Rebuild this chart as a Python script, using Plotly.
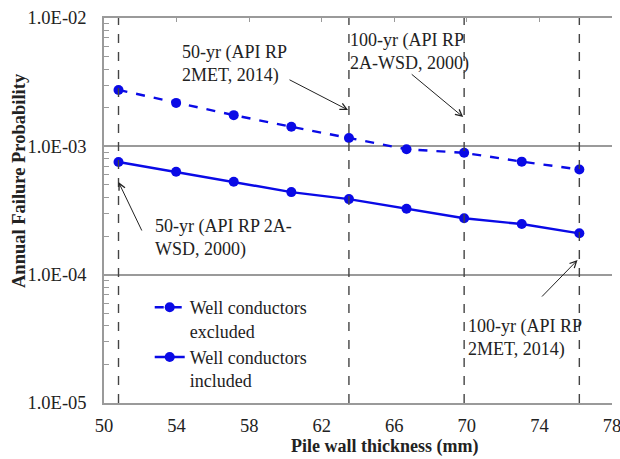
import plotly.graph_objects as go

thickness = [50.8, 53.975, 57.15, 60.325, 63.5, 66.675, 69.85, 73.025, 76.2]
excluded = [2.75e-3, 2.18e-3, 1.75e-3, 1.42e-3, 1.16e-3, 9.5e-4, 8.9e-4, 7.6e-4, 6.6e-4]
included = [7.55e-4, 6.33e-4, 5.3e-4, 4.4e-4, 3.88e-4, 3.26e-4, 2.75e-4, 2.48e-4, 2.1e-4]
design_thickness = [50.8, 63.5, 69.85, 76.2]
y_ticks = [1e-5, 1e-4, 1e-3, 1e-2]
y_tick_labels = ["1.0E-05", "1.0E-04", "1.0E-03", "1.0E-02"]
x_ticks = [50, 54, 58, 62, 66, 70, 74, 78]

FONT = "Liberation Serif"
BLUE = "rgb(10,10,230)"
GRID = "#9a9a9a"
TXT = "#222"

fig = go.Figure()
fig.add_trace(go.Scatter(x=thickness, y=excluded, mode="lines+markers",
                         name="Well conductors<br>excluded",
                         line=dict(color=BLUE, width=2.4, dash="dash"),
                         marker=dict(color=BLUE, size=10)))
fig.add_trace(go.Scatter(x=thickness, y=included, mode="lines+markers",
                         name="Well conductors<br>included",
                         line=dict(color=BLUE, width=2.4),
                         marker=dict(color=BLUE, size=10)))
fig.add_trace(go.Scatter(x=[50, 78], y=[None, None], xaxis="x2", showlegend=False,
                         hoverinfo="skip"))

for xv in design_thickness:
    fig.add_shape(type="line", xref="x", yref="paper", x0=xv, x1=xv, y0=0, y1=1,
                  line=dict(color="#444", width=1.4, dash="dash"))

minor_vals = [m * 10 ** e for e in (-5, -4, -3) for m in range(2, 10)]

fig.update_layout(
    width=620, height=459,
    margin=dict(l=104, r=8, t=18, b=56),
    paper_bgcolor="white", plot_bgcolor="white",
    font=dict(family=FONT, size=18, color=TXT),
    showlegend=True,
    legend=dict(x=0.09, y=0.296, xanchor="left", yanchor="top",
                bgcolor="rgba(0,0,0,0)", font=dict(family=FONT, size=18, color=TXT),
                tracegroupgap=2, valign="top"),
    xaxis=dict(range=[50, 78], tickvals=x_ticks, ticks="", showgrid=False,
               automargin=False, ticklabelstandoff=5, ticklabeloverflow="allow",
               showline=True, linecolor=GRID, linewidth=1.5, zeroline=False,
               tickfont=dict(family=FONT, size=18.5, color=TXT)),
    xaxis2=dict(range=[50, 78], tickvals=x_ticks, overlaying="x", side="top",
                automargin=False,
                ticks="inside", ticklen=4, tickcolor=GRID, showticklabels=False,
                showline=True, linecolor=GRID, linewidth=1.5, showgrid=False, zeroline=False),
    yaxis=dict(type="log", range=[-5, -2], tickvals=y_ticks, ticktext=y_tick_labels,
               automargin=False, ticklabelstandoff=12, ticklabeloverflow="allow",
               showgrid=True, gridcolor=GRID, gridwidth=1.5, ticks="",
               showline=True, linecolor=GRID, linewidth=1.5, zeroline=False,
               minor=dict(tickvals=minor_vals, ticks="inside", ticklen=5, tickcolor=GRID,
                          showgrid=False),
               tickfont=dict(family=FONT, size=18.5, color=TXT)),
)

# axis titles
fig.add_annotation(text="<b>Pile wall thickness (mm)</b>", xref="paper", yref="paper",
                   x=(384 - 104) / 508, y=-(446 - 403) / 385, showarrow=False,
                   xanchor="center", yanchor="middle",
                   font=dict(family=FONT, size=18, color=TXT))
fig.add_annotation(text="<b>Annual Failure Probability</b>", xref="paper", yref="paper",
                   x=-(104 - 19) / 508, y=1 - (181 - 18) / 385, showarrow=False,
                   xanchor="center", yanchor="middle", textangle=-90,
                   font=dict(family=FONT, size=18.5, color=TXT))

texts = [
    ("50-yr (API RP<br>2MET, 2014)", 54.19, -2.359),
    ("100-yr (API RP<br>2A-WSD, 2000)", 63.45, -2.265),
    ("50-yr (API RP 2A-<br>WSD, 2000)", 52.7, -3.715),
    ("100-yr (API RP<br>2MET, 2014)", 69.95, -4.494),
]
for t, xv, yv in texts:
    fig.add_annotation(text=t, x=xv, y=yv, xref="x", yref="y", showarrow=False,
                       xanchor="left", yanchor="middle", align="left",
                       font=dict(family=FONT, size=18, color=TXT))

arrows = [
    (63.45, -2.717, -60, -31),
    (69.8, -2.772, -53, -44),
    (50.8, -3.278, 24, 50),
    (76.1, -3.886, -37, 38),
]
for xv, yv, axv, ayv in arrows:
    fig.add_annotation(text="", x=xv, y=yv, xref="x", yref="y", showarrow=True,
                       ax=axv, ay=ayv, arrowhead=5, arrowsize=1.3, arrowwidth=1,
                       arrowcolor=TXT)

fig.write_html(
    "out.html",
    config={"displayModeBar": False},
    post_script="document.body.style.margin='0';document.body.style.overflow='hidden';",
)
